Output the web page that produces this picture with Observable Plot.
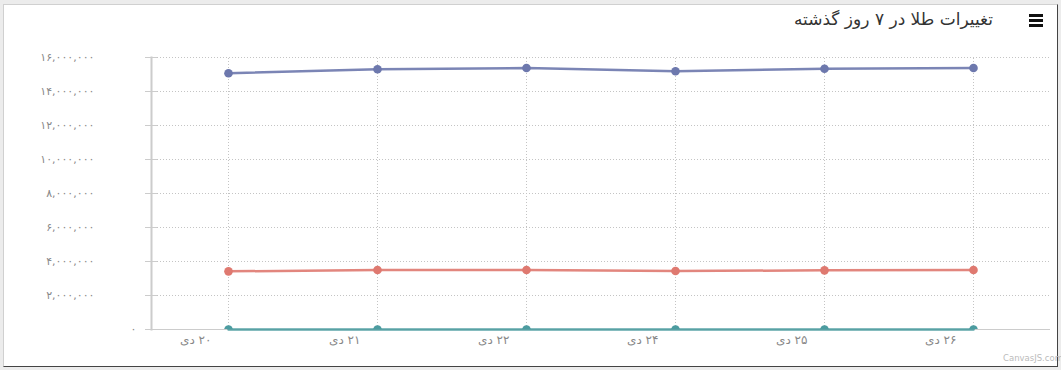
<!DOCTYPE html>
<html>
<head>
<meta charset="utf-8">
<script src="https://cdn.jsdelivr.net/npm/d3@7"></script>
<script src="https://cdn.jsdelivr.net/npm/@observablehq/plot@0.6"></script>
<style>
  html, body { margin: 0; padding: 0; background: #ececec; width: 1061px; height: 370px; overflow: hidden; }
  #box { position: absolute; left: 3px; top: 4px; width: 1053px; height: 361px; background: #fff;
         border-top: 1px solid #d0d0d0; border-left: 1px solid #d0d0d0; border-right: 1px solid #444; border-bottom: 1px solid #444; }
  #title { position: absolute; right: 68px; top: 9px; font-family: "DejaVu Sans", sans-serif; font-size: 17px; color: #333; direction: rtl; }
  #menu { position: absolute; left: 1029px; top: 14px; width: 14px; }
  #menu div { height: 2.6px; background: #111; margin-bottom: 2.4px; }
  #chart { position: absolute; left: 0; top: 40px; }
  #credit { position: absolute; left: 1003px; top: 353px; font-family: "DejaVu Sans", sans-serif; font-size: 8.5px; color: #bbb; }
</style>
</head>
<body>
<div id="box"></div>
<div id="title">تغییرات طلا در ۷ روز گذشته</div>
<div id="menu"><div></div><div></div><div></div></div>
<div id="chart"></div>
<div id="credit">CanvasJS.com</div>
<script>
const dates = ["۲۰ دی", "۲۱ دی", "۲۲ دی", "۲۴ دی", "۲۵ دی", "۲۶ دی"];
const seriesNames = ["سکه", "نیم سکه", "انس"];
const coinValues = [15070000, 15310000, 15380000, 15190000, 15340000, 15380000];
const halfCoinValues = [3420000, 3500000, 3500000, 3440000, 3480000, 3500000];
const ounceValues = [1800, 1805, 1810, 1800, 1805, 1810];
const yTicks = [0, 2000000, 4000000, 6000000, 8000000, 10000000, 12000000, 14000000, 16000000];
const colors = ["#6D78AD", "#DF7970", "#4C9CA0"];

const rows = [];
[coinValues, halfCoinValues, ounceValues].forEach((vals, i) => {
  vals.forEach((v, j) => rows.push({date: dates[j], value: v, series: seriesNames[i]}));
});

const fa = s => String(s).replace(/\d/g, d => "۰۱۲۳۴۵۶۷۸۹"[d]);
const fmt = v => fa(d3.format(",")(v));
const rtl = s => "\u202B" + s + "\u202C";

const font = "DejaVu Sans, sans-serif";
const plot = Plot.plot({
  width: 1061,
  height: 310,
  marginTop: 17,
  marginBottom: 21,
  marginLeft: 151,
  marginRight: 11,
  style: {fontFamily: font, fontSize: "11px", color: "#888", background: "transparent"},
  x: {type: "point", domain: dates, padding: 0.5, label: null},
  y: {domain: [0, 16000000], label: null},
  color: {domain: seriesNames, range: colors},
  marks: [
    Plot.gridY(yTicks, {stroke: "#c4c4c4", strokeOpacity: 1, strokeDasharray: "1,2", strokeWidth: 1}),
    Plot.gridX(dates, {stroke: "#c4c4c4", strokeOpacity: 1, strokeDasharray: "1,2", strokeWidth: 1, y1: 0, y2: 16000000}),
    Plot.tickY(yTicks, {x: null, stroke: "#ccc", strokeWidth: 1, insetLeft: -6, insetRight: 893}),
    Plot.axisY(yTicks.filter(t => t !== 0), {tickSize: 0, tickPadding: 57, tickFormat: fmt, fill: "#888", fontSize: 11, label: null}),
    Plot.axisY([0], {tickSize: 0, tickPadding: 15, tickFormat: fmt, fill: "#888", fontSize: 11, label: null}),
    Plot.axisX({tickSize: 0, tickPadding: 5, textAnchor: "end", dx: -17, dy: 1, fill: "#888", fontSize: 12, tickFormat: d => rtl(d), label: null}),
    Plot.frame({anchor: "left", stroke: "#ccc", strokeWidth: 2}),
    Plot.ruleY([0], {stroke: "#ccc", strokeWidth: 1}),
    Plot.line(rows, {x: "date", y: "value", z: "series", stroke: "series", strokeWidth: 2.5, strokeOpacity: 0.9}),
    Plot.dot(rows.filter(r => r.series !== seriesNames[2]), {x: "date", y: "value", fill: "series", r: 4.3, stroke: "none"}),
    Plot.dot(rows.filter(r => r.series === seriesNames[2]), {x: "date", y: "value", fill: "series", r: 4.3, stroke: "none", clip: true})
  ]
});
document.getElementById("chart").appendChild(plot);
</script>
</body>
</html>
